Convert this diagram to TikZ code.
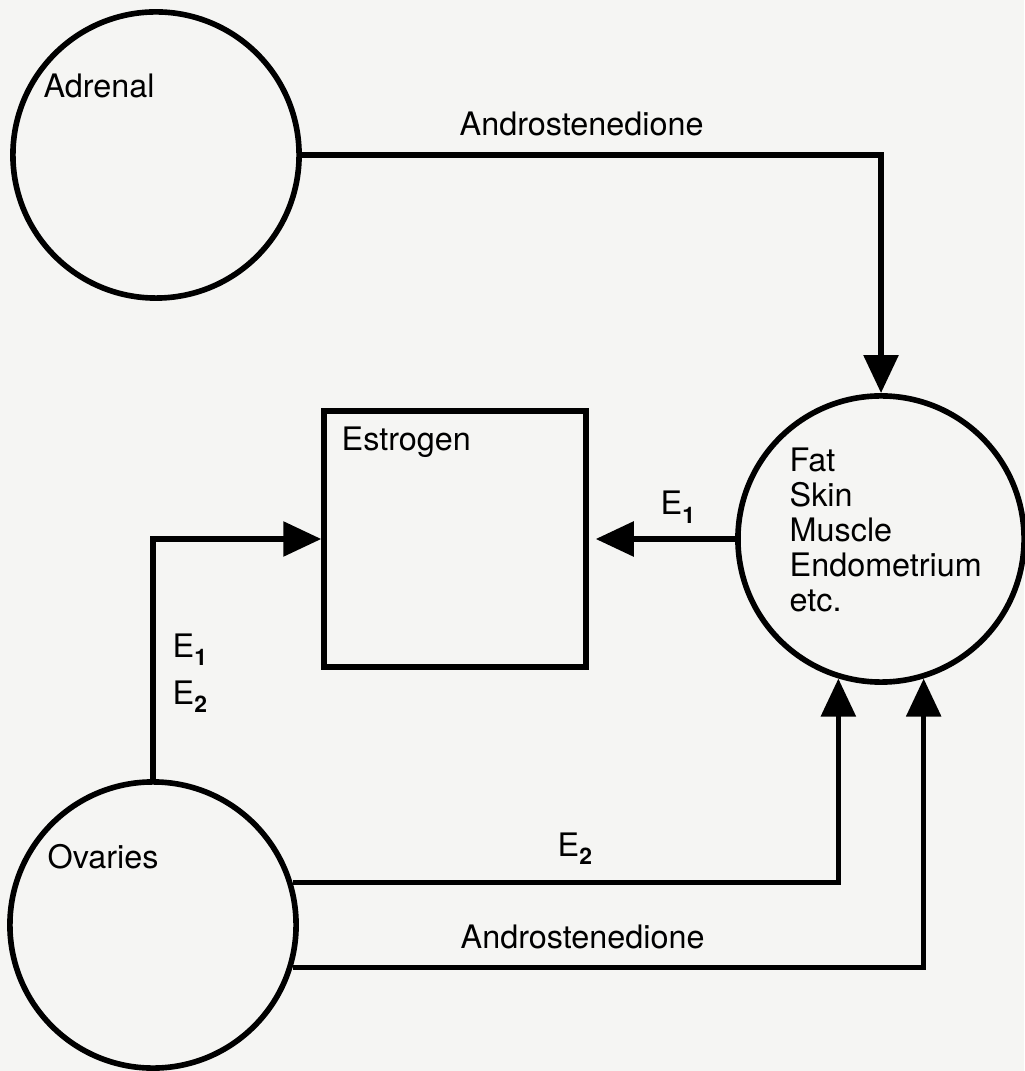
\documentclass[tikz,border=0pt]{standalone}
\usepackage{fontspec}
\setmainfont{TeX Gyre Heros}
\usepackage{xcolor}
\usetikzlibrary{arrows.meta}
\definecolor{paper}{HTML}{F5F5F3}
\tikzset{
  organ/.style={draw, circle, line width=1.6pt, minimum size=2.86cm, inner sep=0pt},
  pool/.style={draw, line width=1.5pt, minimum width=2.62cm, minimum height=2.56cm,
               inner sep=0pt},
  txt/.style={anchor=base west, inner sep=0pt, align=left,
              font=\fontsize{9.2}{10}\selectfont},
  flow/.style={-{Triangle[length=3.8mm, width=3.4mm]}, line width=1.6pt}
}
\newcommand{\Esub}[1]{E\raisebox{-0.5ex}{\fontsize{6.5}{7}\selectfont\bfseries #1}}

\begin{document}
\begin{tikzpicture}[x=0.01cm, y=-0.01cm]
  \fill[paper] (0,0) rectangle (1024,1071);
  \useasboundingbox (0,0) rectangle (1024,1071);
  % organs and the estrogen pool
  \node[organ] (adr) at (156,155) {};
  \node[organ] (fat) at (881,539) {};
  \node[organ] (ova) at (153,925) {};
  \node[pool]  (est) at (455,539) {};
  \node[txt] (adrtxt) at (43,98)  {Adrenal};
  \node[txt] (esttxt) at (341,451) {Estrogen};
  \node[txt] (ovatxt) at (47,868) {Ovaries};
  % base of a multi-line node is its last line
  \node[txt] (fattxt) at (789,612) {Fat\\Skin\\Muscle\\Endometrium\\etc.};
  % connectors
  \draw[flow] (adr) -| (fat);
  \draw[flow, shorten >=0.07cm] (fat) -- (est);
  \draw[flow] (ova) |- (est);
  \draw[flow] (ova.17) -| (fat.253.6);
  \draw[flow] (ova.-17) -| (fat.287.6);
  % connector labels
  \node[txt] (andtop) at (459,136) {Androstenedione};
  \node[txt] (e1fat)  at (660,515) {\Esub{1}};
  \node[txt] (e1ova)  at (172,657) {\Esub{1}};
  \node[txt] (e2ova)  at (172,704) {\Esub{2}};
  \node[txt] (e2bot)  at (557,856) {\Esub{2}};
  \node[txt] (andbot) at (460,948) {Androstenedione};
\end{tikzpicture}
\end{document}
